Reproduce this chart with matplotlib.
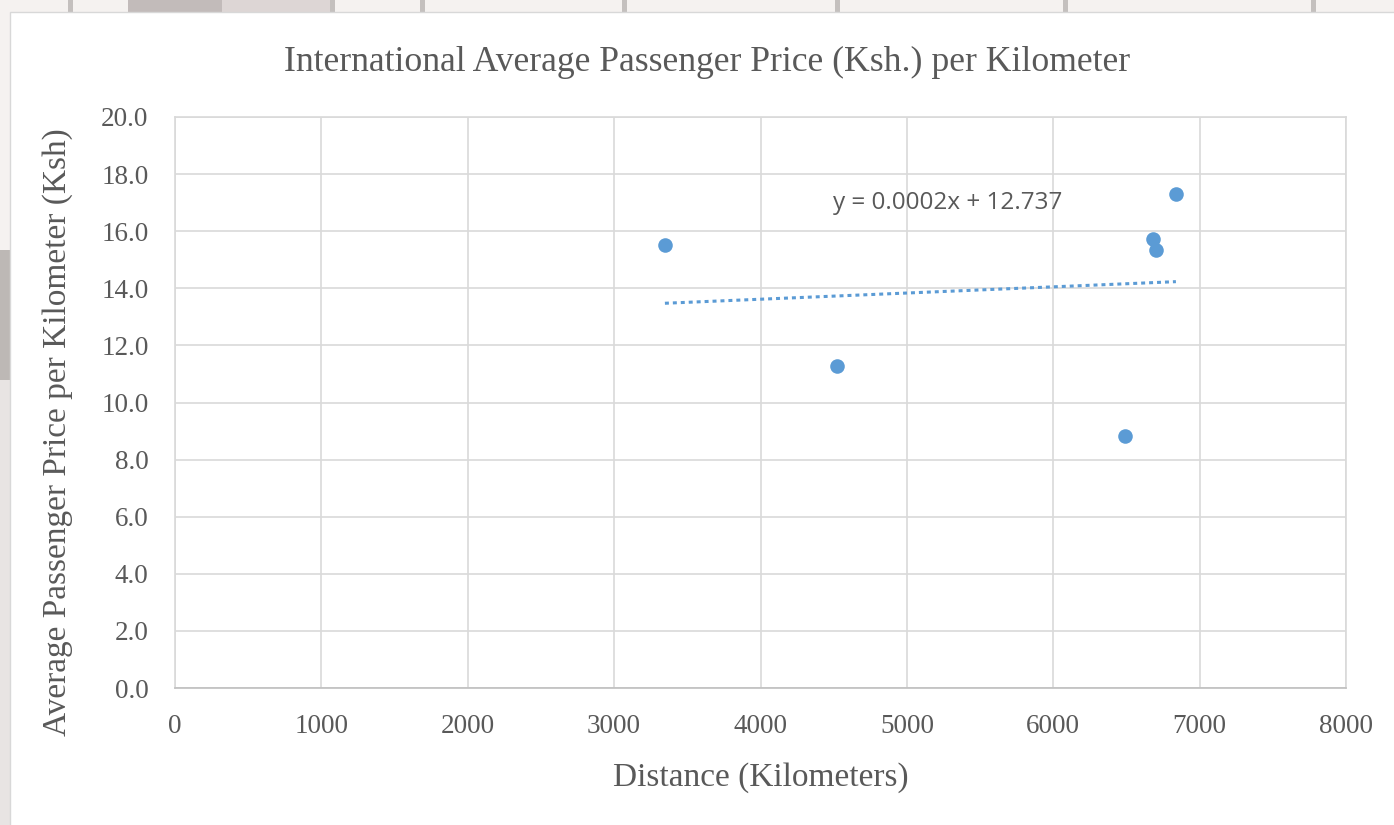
import matplotlib
matplotlib.use('Agg')
import matplotlib.pyplot as plt
import numpy as np
from matplotlib.patches import Rectangle

# distance (km) vs average price per km (Ksh)
distance_km = [3347, 4522, 6490, 6681, 6702, 6838]
price_per_km = [15.52, 11.28, 8.83, 15.73, 15.34, 17.30]

x_ticks = [0, 1000, 2000, 3000, 4000, 5000, 6000, 7000, 8000]
y_ticks = [0, 2, 4, 6, 8, 10, 12, 14, 16, 18, 20]

title = "International Average Passenger Price (Ksh.) per Kilometer"
x_label = "Distance (Kilometers)"
y_label = "Average Passenger Price per Kilometer (Ksh)"
equation = "y = 0.0002x + 12.737"

blue = '#5b9bd5'
grid_col = '#d9d9d9'
text_col = '#595959'
serif = ['Liberation Serif', 'DejaVu Serif']

W, H = 1394, 825
fig = plt.figure(figsize=(W / 100, H / 100), dpi=100, facecolor='#f5f2f0')


def px_rect(x0, y0, w, h, color, z=-10, **kw):
    # rectangle in pixel coords measured from the top-left corner
    fig.patches.append(Rectangle((x0 / W, 1 - (y0 + h) / H), w / W, h / H,
                                 transform=fig.transFigure, facecolor=color,
                                 zorder=z, **kw))


# bits of the spreadsheet window behind the chart (screenshot edges)
px_rect(128, 0, 94, 12, '#c2bbba', lw=0)
px_rect(222, 0, 110, 12, '#ddd6d5', lw=0)
for xl in [68, 330, 420, 622, 835, 1063, 1311]:
    px_rect(xl, 0, 5, 12, '#c4c0be', lw=0)
px_rect(0, 250, 10, 130, '#bdb8b5', lw=0)
px_rect(0, 380, 10, 445, '#e8e4e3', lw=0)
# white chart area
px_rect(10, 12, W, H, 'white', z=-5, edgecolor='#d8d8d8', lw=1)

ax = fig.add_axes([175 / W, 137 / H, 1171 / W, 571 / H])
ax.set_zorder(2)
ax.patch.set_alpha(0)
ax.set_xlim(0, 8000)
ax.set_ylim(0, 20)
ax.set_xticks(x_ticks)
ax.set_yticks(y_ticks)
ax.set_xticklabels([str(t) for t in x_ticks])
ax.set_yticklabels([f"{t:.1f}" for t in y_ticks])
ax.grid(True, color=grid_col, lw=1.2)
ax.set_axisbelow(True)
for s in ax.spines.values():
    s.set_color(grid_col)
    s.set_linewidth(1.2)
ax.spines['bottom'].set_color('#bfbfbf')
ax.tick_params(length=0, labelcolor=text_col, labelsize=19.5)
ax.tick_params(axis='y', pad=19)
ax.tick_params(axis='x', pad=19)
for lab in ax.get_xticklabels() + ax.get_yticklabels():
    lab.set_family(serif)

ax.scatter(distance_km, price_per_km, s=110, color=blue, zorder=3, linewidths=0)

# linear trendline across the data range
slope, intercept = np.polyfit(distance_km, price_per_km, 1)
xs = np.array([min(distance_km), max(distance_km)])
ax.plot(xs, slope * xs + intercept, color=blue, lw=2.2, dashes=(1.3, 1.3),
        dash_capstyle='butt', zorder=2)
ax.text(4495, 17.0, equation, fontsize=17.5, color=text_col, va='center', ha='left',
        family=['Open Sans', 'DejaVu Sans'])

fig.text(707.5 / W, 1 - 62 / H, title, ha='center', va='center', fontsize=25.7,
         color=text_col, family=serif)
ax.set_xlabel(x_label, fontsize=24, color=text_col, family=serif)
ax.set_ylabel(y_label, fontsize=24, color=text_col, family=serif)
ax.xaxis.set_label_coords(0.5, (688 - 762) / 571)
ax.yaxis.set_label_coords((73 - 175) / 1171, (688 - 432) / 571)

fig.savefig('out.png', dpi=100, facecolor=fig.get_facecolor())
